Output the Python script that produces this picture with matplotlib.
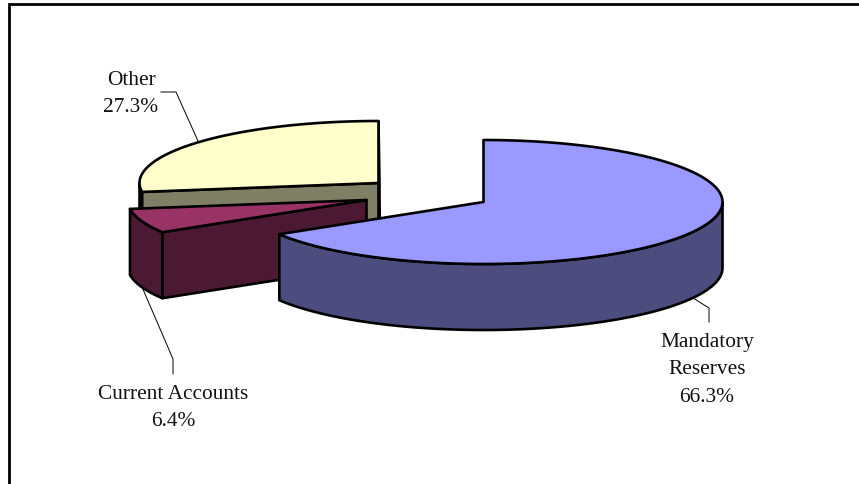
import numpy as np
import matplotlib
matplotlib.use("Agg")
import matplotlib.pyplot as plt
from matplotlib.patches import Polygon, Rectangle

labels = ["Mandatory\nReserves", "Current Accounts", "Other"]
shares = [66.3, 6.4, 27.3]
top_colors = ["#9999FF", "#993366", "#FFFFCC"]
side_colors = ["#4C4C7F", "#4C1933", "#7F7F66"]

# pixel layout of the exploded pie
centers = [(483.5, 202), (366.5, 200), (378.5, 183)]
RX, RY = 239, 62
DEPTH = 66
EDGE = 1.9

plt.rcParams["font.family"] = ["Liberation Serif", "DejaVu Serif"]

fig = plt.figure(figsize=(8.59, 4.84), dpi=100)
ax = fig.add_axes([0, 0, 1, 1])
ax.set_xlim(0, 859)
ax.set_ylim(484, 0)
ax.axis("off")


# angle in degrees, clockwise from twelve o'clock
def rim(center, angle):
    a = np.radians(angle)
    return np.column_stack([center[0] + RX * np.sin(a), center[1] - RY * np.cos(a)])


def face(points, color, z):
    ax.add_patch(Polygon(points, closed=True, facecolor=color, edgecolor="black",
                         linewidth=EDGE, joinstyle="round", zorder=z))


def cut_face(center, angle, color, z):
    apex = np.array(center, dtype=float)
    edge = rim(center, np.array([angle]))[0]
    drop = np.array([0, DEPTH])
    face([apex, edge, edge + drop, apex + drop], color, z)


def draw_slice(center, start, stop, top, side, z):
    # a slice ending at twelve o'clock shows its far cut face edge-on
    if stop >= 359.9:
        cut_face(center, stop, side, z)
    if start >= 180:
        cut_face(center, start, side, z)

    # outer wall, only the part in front of the pie
    lo, hi = max(start, 90), min(stop, 270)
    if hi > lo:
        arc = rim(center, np.linspace(lo, hi, 80))
        face(np.vstack([arc, arc[::-1] + np.array([0, DEPTH])]), side, z)

    arc = rim(center, np.linspace(start, stop, 160))
    face(np.vstack([center, arc]), top, z)


ax.add_patch(Rectangle((9, 4), 860, 500, facecolor="white", edgecolor="black",
                       linewidth=2, zorder=0))

bounds = np.cumsum([0] + shares) * 3.6
# back slice first so the nearer ones overlap it
for i in (2, 1, 0):
    draw_slice(centers[i], bounds[i], bounds[i + 1], top_colors[i], side_colors[i], 3 + (2 - i))

# leader lines
leader_other = ([161, 176, 198], [92, 92, 141])
leader_current = ([142, 173, 173], [287, 359, 374])
leader_mandatory = ([693, 709, 709], [298, 308, 322])
for xs, ys in (leader_other, leader_current, leader_mandatory):
    ax.plot(xs, ys, color="black", linewidth=0.7, zorder=2)

text_pos = [(707, 370), (173.5, 408), (131, 94)]
for label, share, (x, y) in zip(labels, shares, text_pos):
    ax.text(x, y, f"{label}\n{share:.1f}%", ha="center", va="center", fontsize=15.4,
            linespacing=1.6, color="#111111", zorder=8)

fig.savefig("out.png", dpi=100)
